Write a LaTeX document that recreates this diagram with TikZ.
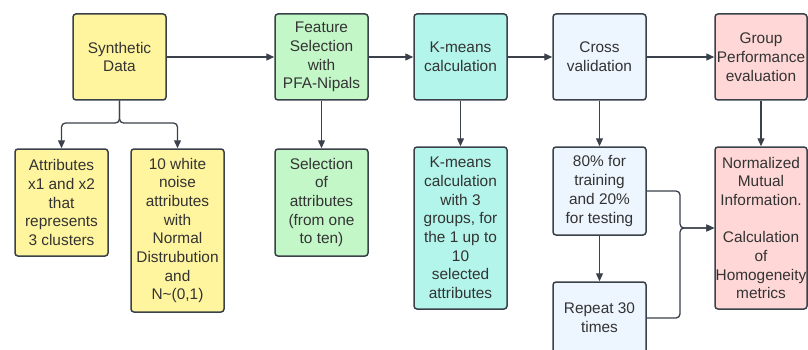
\documentclass[tikz,border=0pt]{standalone}
\usepackage{fontspec}
\setmainfont{Liberation Sans}
\usetikzlibrary{arrows.meta}
\definecolor{edge}{HTML}{3A414A}
\definecolor{txt}{HTML}{333333}
\definecolor{cyel}{HTML}{FFF59E}
\definecolor{cgrn}{HTML}{C3F7C8}
\definecolor{cteal}{HTML}{B3F5EA}
\definecolor{cblue}{HTML}{EDF5FF}
\definecolor{cpink}{HTML}{FFD7D7}
\begin{document}
\begin{tikzpicture}[x=1pt,y=-1pt,
  box/.style={draw=edge, line width=1.5pt, rounded corners=3pt, minimum width=93pt,
    align=center, inner sep=0pt, text=txt, font=\fontsize{15.4}{18.7}\selectfont},
  conn/.style={draw=edge, line width=1.3pt, -{Triangle[length=8pt,width=7pt]}},
  link/.style={draw=edge, line width=1.3pt}]
\clip (0,0) rectangle (808,350);
\useasboundingbox (0,0) rectangle (808,350);
\fill[white] (0,0) rectangle (808,350);
% top row
\node[box, fill=cyel, minimum height=86pt] (syn) at (119.5,57) {Synthetic\\Data};
\node[box, fill=cgrn, minimum height=86pt] (fea) at (321.5,57) {Feature\\Selection\\with\\PFA-Nipals};
\node[box, fill=cteal, minimum height=86pt] (km) at (460.5,57) {K-means\\calculation};
\node[box, fill=cblue, minimum height=86pt] (cv) at (599.5,57) {Cross\\validation};
\node[box, fill=cpink, minimum height=86pt, minimum width=92pt] (gp) at (761,57) {Group\\Performance\\evaluation};
% bottom row
\node[box, fill=cyel, minimum height=107pt] (attr) at (61.5,202.5) {Attributes\\x1 and x2\\that\\represents\\3 clusters};
\node[box, fill=cyel, minimum height=163pt] (noise) at (177.5,230.5) {10 white\\noise\\attributes\\with\\Normal\\Distrubution\\and\\N\textasciitilde(0,1)};
\node[box, fill=cgrn, minimum height=107pt] (sel) at (321.5,202.5) {Selection\\of\\attributes\\(from one\\to ten)};
\node[box, fill=cteal, minimum height=162pt] (km2) at (460.5,228) {K-means\\calculation\\with 3\\groups, for\\the 1 up to\\10\\selected\\attributes};
\node[box, fill=cblue, minimum height=88pt] (tr) at (599.5,191) {80\% for\\training\\and 20\%\\for testing};
\node[box, fill=cblue, minimum height=72pt] (rep) at (599.5,318) {Repeat 30\\times};
\node[box, fill=cpink, minimum height=162pt, minimum width=92pt] (nmi) at (761,228) {Normalized\\Mutual\\Information.\\[18.7pt]Calculation\\of\\Homogeneity\\metrics};
% connectors
\draw[conn] (syn.east) -- (fea.west);
\draw[conn] (fea.east) -- (km.west);
\draw[conn] (km.east) -- (cv.west);
\draw[conn] (cv.east) -- (gp.west);
\coordinate (br) at (119.5,123);
\draw[conn, rounded corners=4pt] (syn.south) -- (br) -| (attr.north);
\draw[conn, rounded corners=4pt] (syn.south) -- (br) -| (noise.north);
\draw[conn] (fea.south) -- (sel.north);
\draw[conn] (km.south) -- (km2.north);
\draw[conn] (cv.south) -- (tr.north);
\draw[conn] (gp.south) -- (nmi.north);
\draw[conn] (tr.south) -- (rep.north);
\coordinate (mg) at (680,228);
\draw[conn, rounded corners=4pt] (tr.east) -| (mg) -- (nmi.west);
\draw[conn, rounded corners=4pt] (rep.east) -| (mg) -- (nmi.west);
\end{tikzpicture}
\end{document}
